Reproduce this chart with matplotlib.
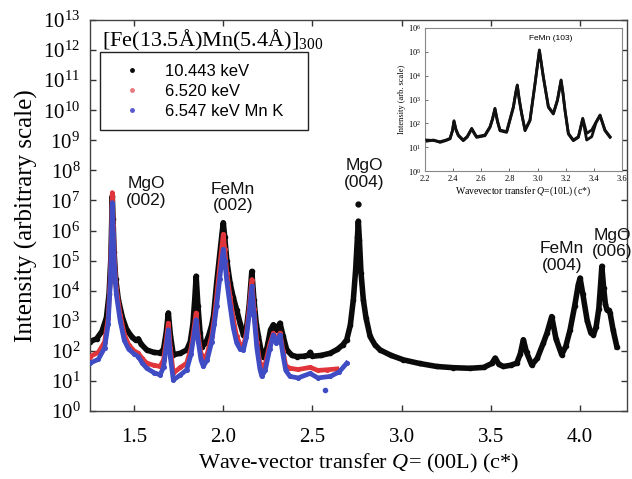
import numpy as np
import matplotlib
matplotlib.use("Agg")
import matplotlib.pyplot as plt
from matplotlib.ticker import FixedLocator, FuncFormatter, NullLocator

plt.rcParams['font.family'] = ['Liberation Serif', 'DejaVu Serif']
plt.rcParams['mathtext.fontset'] = 'custom'
plt.rcParams['mathtext.rm'] = 'Liberation Serif'
plt.rcParams['mathtext.it'] = 'Liberation Serif:italic'
plt.rcParams['mathtext.bf'] = 'Liberation Serif:bold'

# ---------------- data (Q in c*, intensity as log10) ----------------
black_q = [1.253, 1.290, 1.320, 1.345, 1.360, 1.370, 1.375, 1.378, 1.382, 1.388, 1.397, 1.412,
           1.435, 1.459, 1.490, 1.510, 1.524, 1.540, 1.571, 1.610, 1.646, 1.665, 1.680, 1.692,
           1.704, 1.720, 1.760, 1.795, 1.815, 1.830, 1.840, 1.848, 1.858, 1.870, 1.879, 1.900,
           1.917, 1.935, 1.945, 1.963, 1.980, 1.993, 2.000, 2.008, 2.020, 2.038, 2.055, 2.075,
           2.095, 2.113, 2.130, 2.145, 2.160, 2.172, 2.185, 2.197, 2.212, 2.225, 2.245, 2.265,
           2.281, 2.295, 2.318, 2.335, 2.356, 2.385, 2.412, 2.450, 2.475, 2.487, 2.500, 2.550,
           2.599, 2.640, 2.670, 2.692, 2.712, 2.729, 2.742, 2.752, 2.757, 2.763, 2.772, 2.785,
           2.800, 2.823, 2.850, 2.879, 2.940, 3.010, 3.100, 3.197, 3.290, 3.383, 3.460, 3.505,
           3.524, 3.545, 3.570, 3.610, 3.645, 3.665, 3.682, 3.700, 3.729, 3.760, 3.794, 3.815,
           3.841, 3.865, 3.897, 3.920, 3.944, 3.970, 3.990, 4.000, 4.015, 4.040, 4.060, 4.075,
           4.090, 4.105, 4.115, 4.122, 4.132, 4.142, 4.150, 4.160, 4.168, 4.185, 4.206]
black_log = [2.31, 2.40, 2.65, 3.10, 3.90, 5.10, 6.30, 7.14, 6.40, 5.30, 4.40, 3.70,
             3.10, 2.70, 2.45, 2.35, 2.40, 2.22, 2.03, 1.95, 1.93, 2.05, 2.60, 3.26,
             2.50, 1.87, 1.92, 2.03, 2.30, 2.90, 3.70, 4.48, 3.50, 2.60, 2.14, 2.25,
             2.48, 2.85, 3.14, 4.26, 5.20, 5.90, 6.26, 5.80, 5.00, 4.26, 3.80, 3.37,
             2.90, 2.53, 2.75, 3.50, 4.64, 3.70, 2.90, 2.48, 2.00, 1.81, 2.10, 2.70,
             2.87, 2.70, 2.92, 2.50, 2.03, 1.85, 1.81, 1.82, 1.85, 1.95, 1.82, 1.85,
             1.92, 2.05, 2.20, 2.37, 2.85, 3.70, 4.70, 5.80, 6.31, 5.70, 4.60, 3.70,
             3.10, 2.48, 2.20, 2.03, 1.85, 1.70, 1.58, 1.48, 1.44, 1.42, 1.45, 1.58,
             1.76, 1.55, 1.48, 1.52, 1.59, 1.90, 2.37, 1.95, 1.53, 1.75, 2.26, 2.60,
             3.14, 2.40, 1.87, 2.15, 2.70, 3.50, 4.20, 4.42, 3.90, 3.00, 2.60, 2.53,
             2.80, 3.40, 4.20, 4.81, 4.10, 3.55, 3.37, 3.35, 3.26, 2.70, 2.14]
black_spike_q = [2.757]
black_spike_log = [6.87]

red_q = [1.253, 1.300, 1.335, 1.355, 1.367, 1.374, 1.378, 1.383, 1.390, 1.400, 1.422, 1.445,
         1.470, 1.500, 1.524, 1.545, 1.571, 1.610, 1.646, 1.665, 1.680, 1.692, 1.703, 1.720,
         1.760, 1.795, 1.820, 1.835, 1.848, 1.860, 1.875, 1.888, 1.910, 1.935, 1.950, 1.963,
         1.980, 1.993, 2.000, 2.008, 2.020, 2.038, 2.055, 2.075, 2.095, 2.113, 2.130, 2.145,
         2.160, 2.172, 2.188, 2.205, 2.216, 2.235, 2.260, 2.281, 2.297, 2.318, 2.335, 2.350,
         2.374, 2.420, 2.487, 2.530, 2.580, 2.636]
red_log = [1.81, 1.95, 2.30, 3.10, 4.50, 6.00, 7.26, 6.20, 5.00, 4.10, 3.20, 2.55,
           2.20, 2.00, 1.92, 1.75, 1.59, 1.52, 1.48, 1.70, 2.30, 2.92, 2.10, 1.26,
           1.45, 1.59, 2.10, 2.70, 3.26, 2.50, 1.90, 1.70, 1.90, 2.50, 3.10, 3.80,
           4.80, 5.50, 5.87, 5.40, 4.60, 3.80, 3.10, 2.48, 2.20, 2.14, 2.60, 3.40,
           4.37, 3.40, 2.30, 1.60, 1.37, 1.55, 2.20, 2.59, 2.35, 2.59, 2.00, 1.50,
           1.42, 1.38, 1.45, 1.35, 1.37, 1.40]

blue_q = [1.253, 1.300, 1.335, 1.355, 1.367, 1.374, 1.378, 1.383, 1.390, 1.400, 1.422, 1.445,
          1.470, 1.500, 1.524, 1.545, 1.571, 1.610, 1.646, 1.665, 1.680, 1.692, 1.703, 1.720,
          1.760, 1.795, 1.820, 1.835, 1.848, 1.860, 1.875, 1.888, 1.910, 1.935, 1.950, 1.963,
          1.980, 1.993, 2.000, 2.008, 2.020, 2.038, 2.055, 2.075, 2.095, 2.113, 2.130, 2.145,
          2.160, 2.172, 2.188, 2.205, 2.216, 2.235, 2.260, 2.281, 2.297, 2.318, 2.335, 2.350,
          2.374, 2.420, 2.487, 2.530, 2.600, 2.650, 2.692]
blue_log = [1.59, 1.72, 2.10, 2.90, 4.30, 5.70, 6.93, 5.90, 4.80, 3.90, 3.00, 2.35,
            2.05, 1.90, 1.81, 1.60, 1.42, 1.28, 1.20, 1.45, 2.10, 2.70, 1.80, 1.03,
            1.20, 1.37, 1.90, 2.50, 3.03, 2.30, 1.70, 1.48, 1.70, 2.30, 2.90, 3.50,
            4.40, 5.05, 5.37, 5.00, 4.30, 3.50, 2.80, 2.26, 2.05, 2.03, 2.45, 3.20,
            4.15, 3.20, 2.10, 1.40, 1.15, 1.35, 2.05, 2.53, 2.25, 2.53, 1.85, 1.35,
            1.15, 1.10, 1.25, 1.10, 1.15, 1.30, 1.59]
blue_spike_q = [2.571]
blue_spike_log = [0.70]

series_labels = ['10.443 keV', '6.520 keV', '6.547 keV Mn K']

# inset: FeMn (103) scan
inset_q = [2.212, 2.26, 2.307, 2.35, 2.378, 2.395, 2.406, 2.42, 2.437, 2.472,
           2.50, 2.532, 2.55, 2.567, 2.626, 2.662, 2.68, 2.697, 2.715, 2.733,
           2.78, 2.828, 2.845, 2.856, 2.87, 2.887, 2.911, 2.946, 2.982, 3.0,
           3.013, 3.025, 3.041, 3.077, 3.112, 3.141, 3.167, 3.18, 3.195, 3.219,
           3.254, 3.29, 3.321, 3.349, 3.385, 3.415, 3.444, 3.479, 3.515]
inset_log_a = [1.30, 1.28, 1.23, 1.30, 1.37, 1.70, 2.11, 1.75, 1.51, 1.30,
               1.45, 1.79, 1.60, 1.44, 1.51, 1.86, 2.20, 2.63, 2.10, 1.72,
               1.65, 2.70, 3.30, 3.61, 3.00, 2.42, 1.72, 2.14, 3.68, 4.50,
               5.08, 4.60, 3.96, 2.70, 2.42, 2.98, 3.82, 3.30, 2.56, 1.58,
               1.30, 1.44, 2.21, 1.58, 1.72, 2.05, 2.35, 1.72, 1.44]
inset_log_b = [1.25, 1.30, 1.20, 1.28, 1.35, 1.68, 2.08, 1.72, 1.48, 1.27,
               1.42, 1.76, 1.57, 1.41, 1.48, 1.83, 2.17, 2.60, 2.07, 1.69,
               1.62, 2.66, 3.27, 3.58, 2.97, 2.39, 1.69, 2.11, 3.65, 4.47,
               5.04, 4.57, 3.93, 2.67, 2.39, 2.95, 3.79, 3.27, 2.53, 1.55,
               1.27, 1.41, 2.18, 1.30, 1.44, 2.02, 2.32, 1.69, 1.41]

main_xticks = [1.5, 2.0, 2.5, 3.0, 3.5, 4.0]
main_yexp = list(range(0, 14))
inset_xticks = [2.2, 2.4, 2.6, 2.8, 3.0, 3.2, 3.4, 3.6]
inset_yexp = list(range(0, 7))

# ---------------- figure ----------------
W, H = 632, 479
fig = plt.figure(figsize=(W / 100, H / 100), dpi=100)
fig.patch.set_facecolor('white')

def px_rect(l, t, r, b):
    return [l / W, 1 - b / H, (r - l) / W, (b - t) / H]

ax = fig.add_axes(px_rect(90, 20, 627, 411))

c_black = '#0a0a0a'
c_red = '#e0353a'
c_blue = '#3f4cc4'

def lg(v):
    return 10.0 ** np.asarray(v)

ax.plot(black_q, lg(black_log), color=c_black, lw=4.0, marker='o', ms=3,
        solid_joinstyle='round', zorder=2)
ax.plot(black_spike_q, lg(black_spike_log), 'o', color=c_black, ms=3.5, zorder=2)
ax.plot(red_q, lg(red_log), color=c_red, lw=3.4, marker='o', ms=2.6,
        solid_joinstyle='round', zorder=3)
ax.plot(blue_q, lg(blue_log), color=c_blue, lw=3.4, marker='o', ms=2.6,
        solid_joinstyle='round', zorder=4)
ax.plot(blue_spike_q, lg(blue_spike_log), 'o', color=c_blue, ms=3, zorder=4)

ax.set_yscale('log')
ax.set_xlim(1.253, 4.263)
ax.set_ylim(1e0, 1e13)
ax.xaxis.set_major_locator(FixedLocator(main_xticks))
ax.xaxis.set_major_formatter(FuncFormatter(lambda v, p: f'{v:.1f}'))
ax.yaxis.set_major_locator(FixedLocator([10.0 ** e for e in main_yexp]))
ax.yaxis.set_minor_locator(NullLocator())
ax.yaxis.set_major_formatter(FuncFormatter(lambda v, p: r'$10^{%d}$' % int(round(np.log10(v)))))
ax.tick_params(axis='both', direction='in', top=True, right=True, length=4, width=1,
               labelsize=15, color='#333333')
ax.tick_params(axis='x', pad=12)
ax.tick_params(axis='y', pad=7)
for s in ax.spines.values():
    s.set_linewidth(1.0)
    s.set_color('#444444')

ax.set_xlabel('Wave-vector transfer $Q$= (00L) (c*)', fontsize=16, labelpad=4)
ax.set_ylabel('Intensity (arbitrary scale)', fontsize=18, labelpad=4)

# legend
handles = [
    plt.Line2D([], [], ls='none', marker='o', ms=2.5, color=c_black),
    plt.Line2D([], [], ls='none', marker='o', ms=2.5, color='#e87a80'),
    plt.Line2D([], [], ls='none', marker='o', ms=2.5, color='#5a5ad0'),
]
leg = ax.legend(handles, series_labels, loc='upper left', mode='expand',
                bbox_to_anchor=((100 - 90) / 537, 0.0, (308 - 100) / 537, (411 - 52) / 391),
                borderaxespad=0, fancybox=False, edgecolor='#222222', framealpha=1,
                prop={'family': 'Liberation Sans', 'size': 12},
                handlelength=2.4, handletextpad=0.8, borderpad=0.7, labelspacing=0.3)
leg.get_frame().set_linewidth(1.0)

# title
fig.text(102 / W, 1 - 40 / H, '[Fe(13.5Å)Mn(5.4Å)]$_{300}$', fontsize=16,
         ha='left', va='center')

# peak labels
ann = dict(family='Liberation Sans', fontsize=12.5, ha='center', va='center',
           linespacing=1.15, color='#111111', clip_on=False)
ax.text(1.567, lg(7.27), 'MgO\n(002)', **ann)
ax.text(2.055, lg(7.10), 'FeMn\n(002)', **ann)
ax.text(2.789, lg(7.88), 'MgO\n(004)', **ann)
ax.text(3.899, lg(5.13), 'FeMn\n(004)', **ann)
ax.text(4.179, lg(5.57), 'MgO\n(006)', **ann)

# inset
axi = fig.add_axes(px_rect(425, 28, 622, 171))
axi.set_facecolor('white')
axi.plot(inset_q, lg(inset_log_b), color='#111111', lw=2.0, zorder=2)
axi.plot(inset_q, lg(inset_log_a), color='#111111', lw=2.0, zorder=3)
axi.set_yscale('log')
axi.set_xlim(2.2, 3.6)
axi.set_ylim(1e0, 1e6)
axi.xaxis.set_major_locator(FixedLocator(inset_xticks))
axi.xaxis.set_major_formatter(FuncFormatter(lambda v, p: f'{v:.1f}'))
axi.yaxis.set_major_locator(FixedLocator([10.0 ** e for e in inset_yexp]))
axi.yaxis.set_minor_locator(NullLocator())
axi.yaxis.set_major_formatter(FuncFormatter(lambda v, p: r'$10^{%d}$' % int(round(np.log10(v)))))
axi.tick_params(axis='both', direction='in', length=2, width=0.6, labelsize=6,
                color='#555555')
axi.tick_params(axis='x', pad=3)
axi.tick_params(axis='y', pad=3)
for s in axi.spines.values():
    s.set_linewidth(0.8)
    s.set_color('#888888')
axi.set_xlabel('Wavevector transfer $Q$=(10L) (c*)', fontsize=7, labelpad=1)
axi.set_ylabel('Intensity (arb. scale)', fontsize=6, labelpad=1)
axi.text(0.64, 0.93, 'FeMn (103)', transform=axi.transAxes, fontsize=6,
         family='Liberation Sans', ha='center', va='center')

fig.savefig('out.png', dpi=100)
